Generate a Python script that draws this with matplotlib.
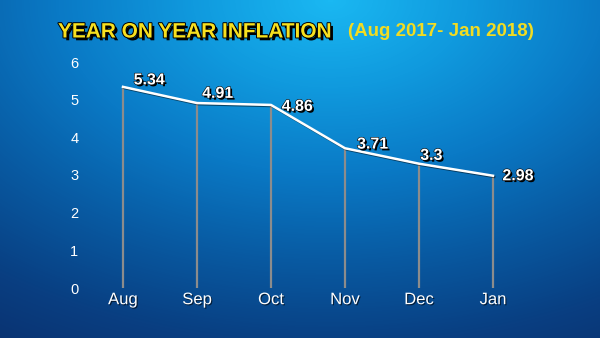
import numpy as np
import matplotlib
matplotlib.use("Agg")
import matplotlib.pyplot as plt
import matplotlib.patheffects as pe
from matplotlib.colors import LinearSegmentedColormap

months = ["Aug", "Sep", "Oct", "Nov", "Dec", "Jan"]
inflation = [5.34, 4.91, 4.86, 3.71, 3.3, 2.98]
value_labels = ["5.34", "4.91", "4.86", "3.71", "3.3", "2.98"]
y_ticks = [0, 1, 2, 3, 4, 5, 6]
title_main = "YEAR ON YEAR INFLATION"
title_sub = "(Aug 2017- Jan 2018)"

# label offsets in points (dx, dy)
label_offsets = [(19, 5), (15, 7), (19, -1), (20, 3), (9, 6), (18, 0)]

plt.rcParams['font.family'] = ['Liberation Sans', 'DejaVu Sans']

W, H = 600, 338
fig = plt.figure(figsize=(6, 3.38), dpi=100)

# background radial gradient
bg = fig.add_axes([0, 0, 1, 1], zorder=-10)
yy, xx = np.mgrid[0:H, 0:W]
d = np.sqrt(((xx - 330) / 520.0) ** 2 + ((yy - 0) / 330.0) ** 2)
cmap = LinearSegmentedColormap.from_list(
    "bg",
    [(0.0, "#1ab8f2"), (0.2, "#109ade"), (0.4, "#0a7ac6"), (0.6, "#085ba3"),
     (0.8, "#093f82"), (1.0, "#0a2d6a")])
bg.imshow(np.clip(d / 1.3, 0, 1), cmap=cmap, vmin=0, vmax=1, aspect='auto',
          extent=[0, 1, 0, 1], origin='upper', interpolation='bilinear')
bg.axis('off')

# main axes: x index 0..5 -> px 123..493, y 0..6 -> px 288..62
left_px, right_px = 95, 560
ppu = (493 - 123) / 5.0
xlim = (-(123 - left_px) / ppu, 5 + (right_px - 493) / ppu)
ax = fig.add_axes([left_px / W, (H - 288) / H, (right_px - left_px) / W, (288 - 62) / H])
ax.set_xlim(*xlim)
ax.set_ylim(0, 6)
ax.patch.set_alpha(0)
for s in ax.spines.values():
    s.set_visible(False)

x = np.arange(len(months))
ax.vlines(x, 0, inflation, color="#8c8c8c", lw=1.6, zorder=2)
ax.plot(x, inflation, color="white", lw=1.8, zorder=3,
        path_effects=[pe.SimpleLineShadow(offset=(0.8, -0.8), shadow_color='black', alpha=0.5), pe.Normal()])

for xi, yi, lab, (dx, dy) in zip(x, inflation, value_labels, label_offsets):
    ax.annotate(lab, (xi, yi), xytext=(dx, dy), textcoords='offset points',
                ha='center', va='center', fontsize=11.5, fontweight='bold', color='white',
                zorder=5,
                path_effects=[pe.SimplePatchShadow(offset=(1.3, -1.3), shadow_rgbFace='black', alpha=1.0),
                              pe.Stroke(linewidth=0.8, foreground='black'), pe.Normal()])

ax.set_xticks(x)
ax.set_xticklabels(months, fontsize=12, color='white')
ax.set_yticks(y_ticks)
ax.set_yticklabels([str(t) for t in y_ticks], fontsize=10.5, color='white')
ax.tick_params(axis='x', length=0, pad=3)
ax.tick_params(axis='y', length=0, pad=12)
for t in ax.get_xticklabels():
    t.set_path_effects([pe.withSimplePatchShadow(offset=(0.8, -0.8), shadow_rgbFace='black', alpha=0.6)])

# titles
fig.text(58 / W, 1 - 32 / H, title_main, fontsize=15, fontweight='bold', color='#f7e01f',
         ha='left', va='center',
         path_effects=[pe.SimplePatchShadow(offset=(2, -2), shadow_rgbFace='black', alpha=1.0),
                       pe.Stroke(linewidth=1.4, foreground='black'), pe.Normal()])
fig.text(348 / W, 1 - 32 / H, title_sub, fontsize=13.5, color='#f2dc22', ha='left', va='center',
         fontweight='bold')

fig.savefig("out.png", dpi=100)
